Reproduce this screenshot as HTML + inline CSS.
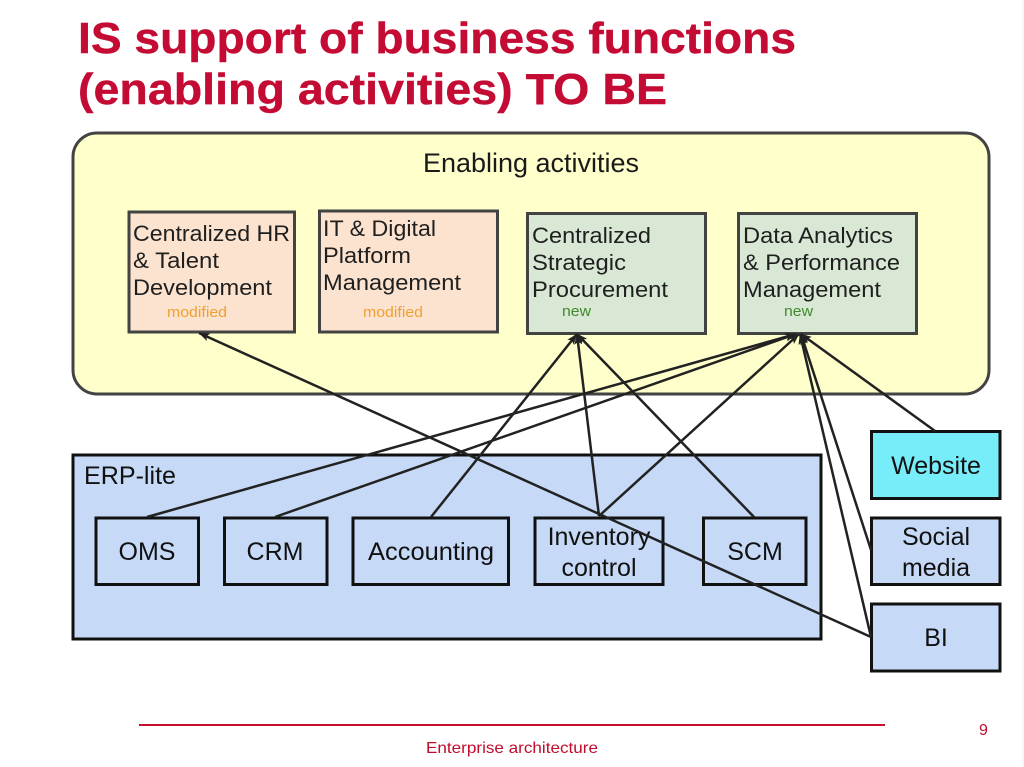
<!DOCTYPE html>
<html>
<head>
<meta charset="utf-8">
<style>
html,body{margin:0;padding:0;background:#fff;width:1024px;height:767px;overflow:hidden}
svg{display:block}
text{font-family:"Liberation Sans",sans-serif;fill:#1a1a1a}
.t{font-family:"Liberation Sans",sans-serif;font-weight:bold;font-size:44px;fill:#c30b33;stroke:#c30b33;stroke-width:.4px}
.b{font-size:22px;fill:#1f1f1f}
.n{font-size:25px;text-anchor:middle;fill:#111}
</style>
</head>
<body>
<svg width="1024" height="767" viewBox="0 0 1024 767" xmlns="http://www.w3.org/2000/svg">
<defs>
<marker id="a" markerUnits="userSpaceOnUse" markerWidth="11" markerHeight="10" refX="10.500" refY="5" orient="auto">
<path d="M0 1 L11 5 L0 9 L2.500 5 Z" fill="#222"/>
</marker>
</defs>
<rect width="1024" height="767" fill="#fff"/>
<rect x="1022" y="0" width="2" height="767" fill="#f7f7f7"/>

<text class="t" x="78" y="53" textLength="718" lengthAdjust="spacingAndGlyphs">IS support of business functions</text>
<text class="t" x="78" y="104" textLength="589" lengthAdjust="spacingAndGlyphs">(enabling activities) TO BE</text>

<rect x="73" y="133" width="916" height="261" rx="24" ry="24" fill="#ffffcb" stroke="#434343" stroke-width="3"/>
<text x="423" y="172" font-size="27" textLength="216" lengthAdjust="spacingAndGlyphs">Enabling activities</text>

<g stroke="#434343" stroke-width="3">
<rect x="129" y="212" width="165.500" height="120" fill="#fbe3cf"/>
<rect x="319.500" y="211" width="178" height="121" fill="#fbe3cf"/>
<rect x="527.500" y="213.500" width="178" height="120" fill="#d8e8d4"/>
<rect x="738.500" y="213.500" width="178" height="120" fill="#d8e8d4"/>
</g>

<text class="b" x="133" y="241" textLength="157" lengthAdjust="spacingAndGlyphs">Centralized HR</text>
<text class="b" x="133" y="268" textLength="86" lengthAdjust="spacingAndGlyphs">&amp; Talent</text>
<text class="b" x="133" y="295" textLength="139" lengthAdjust="spacingAndGlyphs">Development</text>
<text x="167" y="317" font-size="14.500" style="fill:#f0a030" textLength="60" lengthAdjust="spacingAndGlyphs">modified</text>

<text class="b" x="323" y="236" textLength="113" lengthAdjust="spacingAndGlyphs">IT &amp; Digital</text>
<text class="b" x="323" y="263" textLength="88" lengthAdjust="spacingAndGlyphs">Platform</text>
<text class="b" x="323" y="290" textLength="138" lengthAdjust="spacingAndGlyphs">Management</text>
<text x="363" y="317" font-size="14.500" style="fill:#f0a030" textLength="60" lengthAdjust="spacingAndGlyphs">modified</text>

<text class="b" x="532" y="243" textLength="119" lengthAdjust="spacingAndGlyphs">Centralized</text>
<text class="b" x="532" y="270" textLength="94" lengthAdjust="spacingAndGlyphs">Strategic</text>
<text class="b" x="532" y="297" textLength="136" lengthAdjust="spacingAndGlyphs">Procurement</text>
<text x="562" y="316" font-size="14.500" style="fill:#3f8a2c" textLength="29" lengthAdjust="spacingAndGlyphs">new</text>

<text class="b" x="743" y="243" textLength="150" lengthAdjust="spacingAndGlyphs">Data Analytics</text>
<text class="b" x="743" y="270" textLength="157" lengthAdjust="spacingAndGlyphs">&amp; Performance</text>
<text class="b" x="743" y="297" textLength="138" lengthAdjust="spacingAndGlyphs">Management</text>
<text x="784" y="316" font-size="14.500" style="fill:#3f8a2c" textLength="29" lengthAdjust="spacingAndGlyphs">new</text>

<rect x="73" y="455" width="748" height="184" fill="#c6d9f6" stroke="#111" stroke-width="3"/>
<text x="84" y="484" font-size="25" style="fill:#111" textLength="92" lengthAdjust="spacingAndGlyphs">ERP-lite</text>

<g stroke="#111" stroke-width="3" fill="#c6d9f6">
<rect x="96" y="518" width="102.500" height="66.500"/>
<rect x="224.500" y="518" width="102.500" height="66.500"/>
<rect x="353" y="518" width="155.500" height="66.500"/>
<rect x="535" y="518" width="128" height="66.500"/>
<rect x="703.500" y="518" width="102.500" height="66.500"/>
<rect x="871.500" y="431.500" width="128.500" height="67" fill="#76edf9"/>
<rect x="871.500" y="518" width="128.500" height="66.500"/>
<rect x="871.500" y="604" width="128.500" height="67"/>
</g>

<text class="n" x="147" y="560">OMS</text>
<text class="n" x="275" y="560">CRM</text>
<text class="n" x="431" y="560" textLength="126" lengthAdjust="spacingAndGlyphs">Accounting</text>
<text class="n" x="599" y="545">Inventory</text>
<text class="n" x="599" y="576">control</text>
<text class="n" x="755" y="560">SCM</text>
<text class="n" x="936" y="474">Website</text>
<text class="n" x="936" y="545">Social</text>
<text class="n" x="936" y="576">media</text>
<text class="n" x="936" y="646">BI</text>

<g stroke="#222" stroke-width="2.500" fill="none">
<line x1="871" y1="637" x2="199" y2="333" marker-end="url(#a)"/>
<line x1="431" y1="517" x2="577" y2="334" marker-end="url(#a)"/>
<line x1="599" y1="516" x2="577" y2="334" marker-end="url(#a)"/>
<line x1="754" y1="517" x2="577" y2="334" marker-end="url(#a)"/>
<line x1="147" y1="517" x2="796" y2="334" marker-end="url(#a)"/>
<line x1="275" y1="517" x2="796" y2="334" marker-end="url(#a)"/>
<line x1="599" y1="516" x2="799" y2="334" marker-end="url(#a)"/>
<line x1="935" y1="431" x2="801" y2="334" marker-end="url(#a)"/>
<line x1="871" y1="550" x2="801" y2="334" marker-end="url(#a)"/>
<line x1="871" y1="637" x2="800" y2="334" marker-end="url(#a)"/>
</g>

<line x1="139" y1="725" x2="885" y2="725" stroke="#c8102e" stroke-width="2"/>
<text x="426" y="753" font-size="16" style="fill:#c00d2e" textLength="172" lengthAdjust="spacingAndGlyphs">Enterprise architecture</text>
<text x="979" y="735" font-size="16" style="fill:#c00d2e">9</text>
</svg>
</body>
</html>
